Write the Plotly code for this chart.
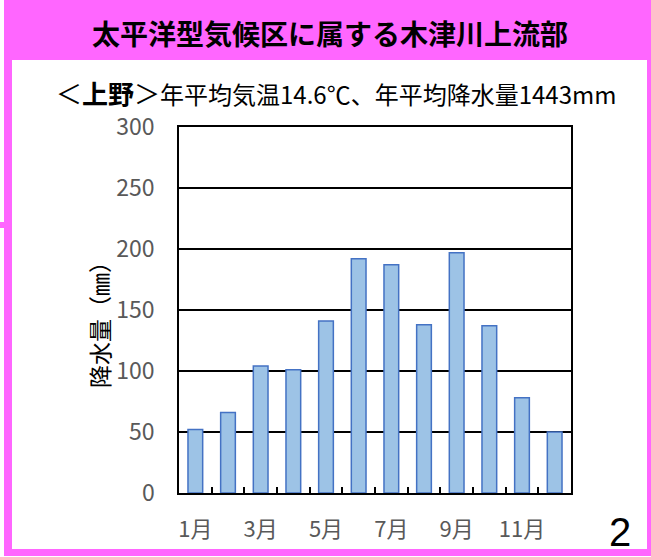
import plotly.graph_objects as go

# Monthly precipitation at Ueno (mm)
months = ["1月", "2月", "3月", "4月", "5月", "6月",
          "7月", "8月", "9月", "10月", "11月", "12月"]
precip = [52, 66, 104, 101, 141, 192, 187, 138, 197, 137, 78, 50]
shown_labels = ["1月", "", "3月", "", "5月", "", "7月", "", "9月", "", "11月", ""]

header = "太平洋型気候区に属する木津川上流部"
station = "上野"
summary = "年平均気温14.6℃、年平均降水量1443mm"
y_title = "降水量（㎜）"
page_no = "2"

W, H = 651, 557
L, R, T, B = 179, 571, 127, 493  # plot area in pixels
PINK = "#FF66FF"
FONT = "Noto Sans CJK JP"


def px(x):
    return (x - L) / (R - L)


def py(y):
    return (B - y) / (B - T)


def rect(x0, y0, x1, y1, color):
    return dict(type="rect", xref="paper", yref="paper",
                x0=px(x0), x1=px(x1), y0=py(y1), y1=py(y0),
                fillcolor=color, line=dict(width=0), layer="below")


fig = go.Figure()
fig.add_trace(go.Bar(
    x=months, y=precip,
    marker=dict(color="#9DC3E6", line=dict(color="#4472C4", width=1.5)),
    showlegend=False,
))

# ── frame: pink header band and border, white panel ──
shapes = [
    rect(4, 0, W, 556, PINK),
    rect(12, 60, 647, 549, "white"),
    rect(0, 222, 4, 228, PINK),
]

annotations = [
    dict(text=f"<b>{header}</b>", x=px(330), y=py(33),
         font=dict(size=28, color="black", family=FONT)),
    dict(text=(f"<span style='font-size:26px'>＜<b>{station}</b>＞</span>"
               f"{summary}"),
         x=px(54), y=py(93), xanchor="left",
         font=dict(size=24, color="black", family=FONT)),
    dict(text=y_title, x=px(99), y=py(319), textangle=-90,
         font=dict(size=23, color="black", family=FONT)),
    dict(text=page_no, x=px(620), y=py(532),
         font=dict(size=40, color="black", family="Liberation Sans")),
]
for a in annotations:
    a.update(xref="paper", yref="paper", showarrow=False)
    a.setdefault("xanchor", "center")
    a["yanchor"] = "middle"

fig.update_layout(
    width=W, height=H,
    margin=dict(l=L, r=W - R, t=T, b=H - B, pad=0),
    paper_bgcolor="white", plot_bgcolor="rgba(0,0,0,0)",
    bargap=0.55,
    shapes=shapes,
    annotations=annotations,
    font=dict(family=FONT),
    xaxis=dict(
        type="category", tickvals=months, ticktext=shown_labels,
        tickson="boundaries", ticks="inside", ticklen=6,
        tickcolor="black", tickwidth=1.5, tickangle=0,
        showgrid=False, showline=True, linecolor="black", linewidth=1.5,
        mirror=True, ticklabelstandoff=16,
        tickfont=dict(size=22, color="#595959", family=FONT),
    ),
    yaxis=dict(
        range=[0, 300], dtick=50, showgrid=True, gridcolor="black",
        gridwidth=1.5, zeroline=False, showline=True, linecolor="black",
        linewidth=1.5, mirror=True, ticks="", ticklabelstandoff=18,
        tickfont=dict(size=23, color="#595959", family=FONT),
    ),
)

# drop the default body margin so the figure sits at the window's corner
fig.write_html("out.html", config={"displayModeBar": False},
               post_script="document.body.style.margin='0';"
                           "document.body.style.overflow='hidden';")
